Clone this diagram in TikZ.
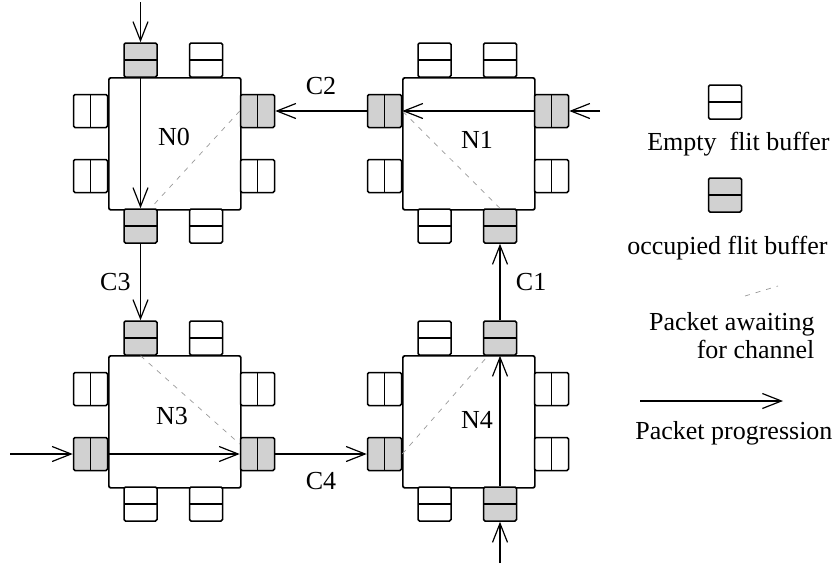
\documentclass[tikz,border=0pt]{standalone}
\usepackage{fontspec}
\setmainfont{Liberation Serif}
\usetikzlibrary{arrows.meta,positioning,calc}

\begin{document}
\begin{tikzpicture}[x=1pt,y=-1pt,font=\fontsize{26}{28}\selectfont,
  router/.style={draw,line width=1.7pt,rounded corners=2pt,minimum width=132pt,minimum height=132pt,inner sep=0pt,anchor=north west},
  buf/.style={draw,line width=1.5pt,fill=white,rounded corners=1.5pt,inner sep=0pt},
  eh/.style={buf,minimum width=33pt,minimum height=34pt,path picture={\draw[line width=1.5pt] (path picture bounding box.west) -- (path picture bounding box.east);}},
  ev/.style={buf,minimum width=34pt,minimum height=33pt,path picture={\draw[line width=1.5pt] (path picture bounding box.north) -- (path picture bounding box.south);}},
  occ/.style={fill=black!18},
  pkt/.style={-{Straight Barb[length=19pt,width=15pt]},line width=1.2pt},
  wait/.style={draw=black!40,line width=0.7pt,dash pattern=on 5pt off 6pt},
  % occupied flit buffers
  n0t1/.style=occ,n0r1/.style=occ,n0b1/.style=occ,
  n1l1/.style=occ,n1r1/.style=occ,n1b2/.style=occ,
  n3t1/.style=occ,n3l2/.style=occ,n3r2/.style=occ,
  n4t2/.style=occ,n4l2/.style=occ,n4b2/.style=occ]
  \useasboundingbox (0,0) rectangle (836,565);

  % routers and their flit buffers
  \foreach \r/\x/\y in {n0/108/77,n1/402/77,n3/108/355,n4/402/355}{
    \node[router] (\r) at (\x,\y) {};
    \foreach \p/\dx/\dy/\s in {t1/32.5/-17/eh,t2/98/-17/eh,b1/32.5/149/eh,b2/98/149/eh,
        l1/-17.5/34/ev,l2/-17.5/99/ev,r1/149.5/34/ev,r2/149.5/99/ev}
      \node[\s,\r\p/.try] (\r\p) at ($(\r.north west)+(\dx,\dy)$) {};
  }
  \node (l0) at (174,137) {N0};
  \node (l1) at (477,140) {N1};
  \node (l3) at (172,416) {N3};
  \node (l4) at (477,420) {N4};

  % waiting packets
  \draw[wait] (n0r1.west) -- ([xshift=10pt]n0b1.north);
  \draw[wait] (n1b2.north) -- (n1l1.east);
  \draw[wait] (n3t1.south) -- ([yshift=10pt]n3r2.west);
  \draw[wait] (n4l2.east) -- ([xshift=-12pt]n4t2.south);

  % packet progression
  \coordinate (i0) at (140.5,2);
  \coordinate (i1) at (600,111);
  \coordinate (i3) at (10,454);
  \coordinate (i4) at (500,563);
  \draw[pkt] (i0) -- (n0t1.north);
  \draw[pkt] (n0t1.south) -- (n0b1.north);
  \draw[pkt] (n0b1.south) -- (n3t1.north) node[midway,left=6pt] (c3) {C3};
  \draw[pkt] (i3) -- (n3l2.west);
  \draw[pkt] (n3l2.east) -- (n3r2.west);
  \draw[pkt] (n3r2.east) -- (n4l2.west) node[midway,below=14pt] (c4) {C4};
  \draw[pkt] (i4) -- (n4b2.south);
  \draw[pkt] (n4b2.north) -- (n4t2.south);
  \draw[pkt] (n4t2.north) -- (n1b2.south) node[midway,right=12pt] (c1) {C1};
  \draw[pkt] (i1) -- (n1r1.east);
  \draw[pkt] (n1r1.west) -- (n1l1.east);
  \draw[pkt] (n1l1.west) -- (n0r1.east) node[midway,above=12pt] (c2) {C2};

  % legend
  \node[eh] (le) at (725,102) {};
  \node[anchor=east] (te) at (833,144) {Empty\ \ flit buffer};
  \node[eh,occ] (lo) at (725,195) {};
  \node[anchor=east] (to) at (831,248) {occupied flit buffer};
  \coordinate (w1) at (745,296);
  \coordinate (w2) at (778,286);
  \draw[wait] (w1) -- (w2);
  \node[anchor=east,align=right] (tw) at (818,336) {Packet awaiting\\for channel};
  \coordinate (p1) at (640,401);
  \coordinate (p2) at (783,401);
  \draw[pkt] (p1) -- (p2);
  \node[anchor=east] (tp) at (836,433) {Packet progression};
\end{tikzpicture}
\end{document}
